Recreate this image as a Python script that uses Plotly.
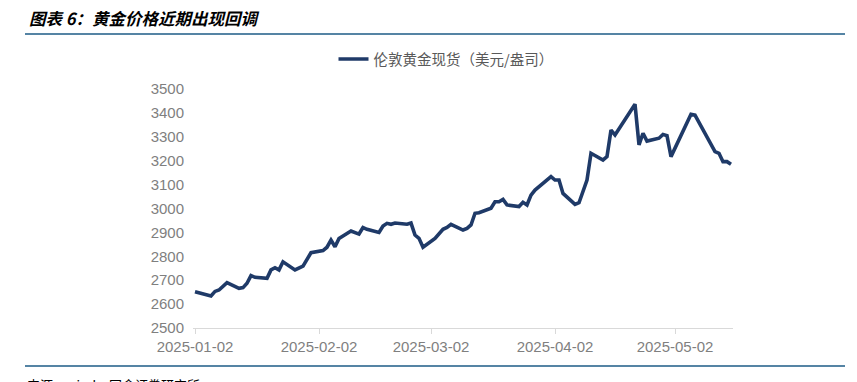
import plotly.graph_objects as go

dates = ["2025-01-02","2025-01-03","2025-01-06","2025-01-07","2025-01-08","2025-01-10",
         "2025-01-13","2025-01-14","2025-01-15","2025-01-16","2025-01-17","2025-01-20",
         "2025-01-21","2025-01-22","2025-01-23","2025-01-24","2025-01-27","2025-01-29",
         "2025-01-31","2025-02-03","2025-02-04","2025-02-05","2025-02-06","2025-02-07",
         "2025-02-10","2025-02-12","2025-02-13","2025-02-14","2025-02-17","2025-02-18",
         "2025-02-19","2025-02-20","2025-02-21","2025-02-24","2025-02-25","2025-02-26",
         "2025-02-27","2025-02-28","2025-03-03","2025-03-05","2025-03-06","2025-03-07",
         "2025-03-10","2025-03-11","2025-03-12","2025-03-13","2025-03-14","2025-03-17",
         "2025-03-18","2025-03-19","2025-03-20","2025-03-21","2025-03-24","2025-03-25",
         "2025-03-26","2025-03-27","2025-03-28","2025-04-01","2025-04-02","2025-04-03",
         "2025-04-04","2025-04-07","2025-04-08","2025-04-10","2025-04-11","2025-04-14",
         "2025-04-15","2025-04-16","2025-04-17","2025-04-22","2025-04-23","2025-04-24",
         "2025-04-25","2025-04-28","2025-04-29","2025-04-30","2025-05-01","2025-05-06",
         "2025-05-07","2025-05-12","2025-05-13","2025-05-14","2025-05-15","2025-05-16"]
gold_price = [2652,2648,2634,2653,2659,2690,
              2666,2669,2687,2719,2712,2708,
              2743,2752,2743,2777,2743,2759,
              2815,2824,2838,2868,2840,2875,
              2906,2893,2920,2913,2900,2927,
              2938,2934,2939,2934,2939,2889,
              2875,2838,2875,2913,2921,2934,
              2910,2917,2931,2980,2982,3001,
              3028,3028,3038,3015,3008,3026,
              3015,3056,3077,3133,3119,3119,
              3063,3017,3024,3119,3231,3203,
              3217,3328,3308,3436,3266,3315,
              3282,3294,3310,3305,3217,3394,
              3391,3238,3231,3196,3196,3185]

series_name = "伦敦黄金现货（美元/盎司）"
title_text = "图表 6：黄金价格近期出现回调"
source_text = "来源：wind，国金证券研究所"
x_range = ["2025-01-01 12:00", "2025-05-16 12:00"]
y_range = [2500, 3500]

W, H = 857, 382
L, R, T, B = 193, 733, 89, 328

def px(x):
    return (x - L) / (R - L)

def py(y):
    return (B - y) / (B - T)

fig = go.Figure()
fig.add_trace(go.Scatter(x=dates, y=gold_price, mode="lines", name=series_name,
                         line=dict(color="#1F3A68", width=3.6)))

fig.update_layout(
    width=W, height=H,
    margin=dict(l=L, r=W - R, t=T, b=H - B),
    paper_bgcolor="white", plot_bgcolor="white",
    font=dict(family="Noto Sans CJK SC, Noto Sans, sans-serif", color="#7F7F7F", size=14),
    showlegend=True,
    legend=dict(orientation="h", x=px(446), y=py(59), xanchor="center", yanchor="middle",
                font=dict(size=14.5, color="#595959"), itemwidth=30),
    xaxis=dict(type="date", range=x_range, tick0="2025-01-02", dtick="M1",
               tickformat="%Y-%m-%d", showgrid=False, showline=True, linecolor="#D9D9D9",
               linewidth=1, ticks="outside", ticklen=5, tickcolor="#D9D9D9",
               tickfont=dict(family="Liberation Sans, Arial, sans-serif", size=15, color="#7F7F7F")),
    yaxis=dict(range=y_range, dtick=100, showgrid=False, showline=False, zeroline=False,
               ticks="", ticklabelstandoff=8,
               tickfont=dict(family="Liberation Sans, Arial, sans-serif", size=15, color="#7F7F7F")),
    shapes=[
        dict(type="line", xref="paper", yref="paper", x0=px(25), x1=px(845), y0=py(34), y1=py(34),
             line=dict(color="#1D5B86", width=1.5)),
        dict(type="line", xref="paper", yref="paper", x0=px(25), x1=px(845), y0=py(366), y1=py(366),
             line=dict(color="#1D5B86", width=1.5)),
    ],
    annotations=[
        dict(text="<b><i>" + title_text + "</i></b>", xref="paper", yref="paper", x=px(27), y=py(18),
             xanchor="left", yanchor="middle", showarrow=False,
             font=dict(size=16.5, color="#000000", family="Noto Sans CJK SC")),
        dict(text=source_text, xref="paper", yref="paper", x=px(25), y=py(373),
             xanchor="left", yanchor="top", showarrow=False,
             font=dict(size=13, color="#000000", family="Noto Sans CJK SC")),
    ],
)

fig.write_html("out.html", config={"displayModeBar": False},
               post_script="document.body.style.margin='0';document.body.style.overflow='hidden';")
